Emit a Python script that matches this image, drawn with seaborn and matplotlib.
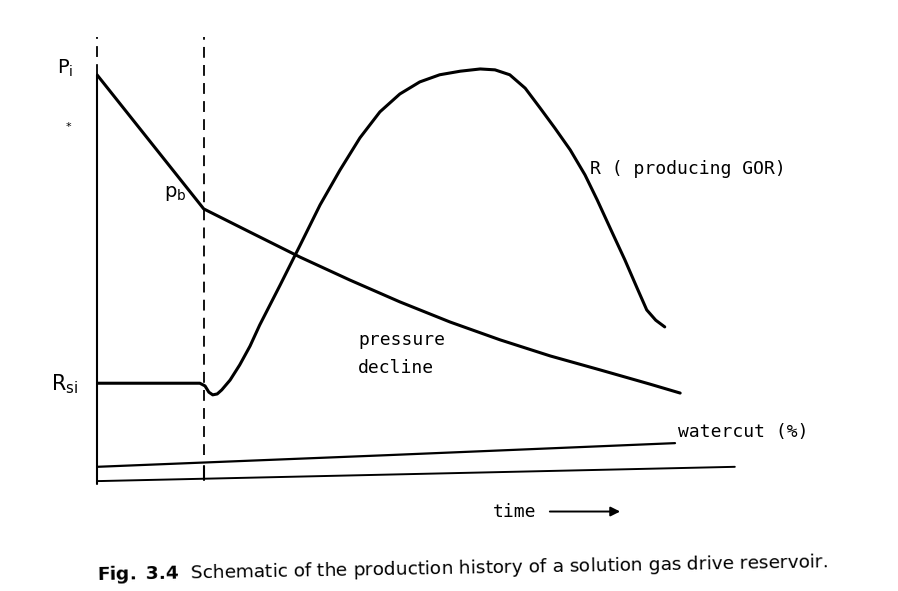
import numpy as np
import pandas as pd
import matplotlib
matplotlib.use('Agg')
import matplotlib.pyplot as plt
import seaborn as sns

# schematic values (time units 0-10, value units 0-100)
t_pressure = [0.0, 1.66, 2.38, 3.16, 3.93, 4.71, 5.49, 6.27, 7.05, 7.82, 8.60, 9.07]
pressure = [91.1, 61.1, 55.9, 50.3, 45.2, 40.3, 35.8, 31.8, 28.2, 25.1, 21.9, 19.9]

t_gor = [0.0, 1.60, 1.68, 1.74, 1.80, 1.87, 1.94, 2.07, 2.22, 2.38, 2.53, 2.85, 3.16,
         3.47, 3.78, 4.09, 4.40, 4.71, 5.02, 5.33, 5.65, 5.96, 6.19, 6.42, 6.66, 6.89,
         7.12, 7.36, 7.59, 7.78, 8.01, 8.21, 8.40, 8.55, 8.69, 8.83]
gor = [22.1, 22.1, 21.5, 20.1, 19.5, 19.7, 20.6, 22.8, 26.2, 30.4, 35.1, 44.1, 53.0,
       62.0, 69.8, 77.0, 82.8, 86.8, 89.5, 91.1, 91.9, 92.4, 92.2, 91.1, 88.1, 83.7,
       79.2, 74.3, 68.7, 63.1, 55.9, 49.7, 43.4, 38.5, 36.2, 34.7]

t_watercut = [0.0, 4.5, 8.99]
watercut = [3.4, 6.0, 8.7]

t_base = [0.0, 9.92]
base = [0.2, 3.4]

t_bubble = 1.66  # time the bubble point is reached

sns.set_style('white')
plt.rcParams['font.family'] = ['DejaVu Sans']
plt.rcParams['text.color'] = 'black'

fig = plt.figure(figsize=(8.98, 5.91), dpi=100)
ax = fig.add_axes([0.108, 0.1844, 0.716, 0.7564])
ax.set_xlim(0, 10)
ax.set_ylim(0, 100)
ax.axis('off')

lw = 2.2
sns.lineplot(x=t_pressure, y=pressure, ax=ax, color='black', lw=lw, sort=False)
sns.lineplot(x=t_gor, y=gor, ax=ax, color='black', lw=lw, sort=False)
sns.lineplot(x=t_watercut, y=watercut, ax=ax, color='black', lw=1.6, sort=False)
sns.lineplot(x=t_base, y=base, ax=ax, color='black', lw=1.4, sort=False)

# vertical axis: solid up to p_i, dashed above
ax.plot([0, 0], [-0.5, pressure[0]], color='black', lw=1.5, clip_on=False)
ax.plot([0, 0], [pressure[0], 99.5], color='black', lw=1.3, ls=(0, (6, 4)), clip_on=False)
# bubble point marker
ax.plot([t_bubble, t_bubble], [6.0, 99.5], color='black', lw=1.3, ls=(0, (6, 4)), clip_on=False)
ax.plot([t_bubble, t_bubble], [0.4, 3.6], color='black', lw=1.5)

lab = dict(fontsize=13, family='DejaVu Sans Mono')
ax.text(-0.5, 92.5, r'P$_{\mathrm{i}}$', ha='center', va='center', fontsize=14)
ax.text(-0.45, 79.5, '*', fontsize=8, ha='center', va='center')
ax.text(1.22, 64.5, r'p$_{\mathrm{b}}$', ha='center', va='center', fontsize=14)
ax.text(-0.5, 21.8, r'R$_{\mathrm{si}}$', ha='center', va='center', fontsize=15)
ax.text(7.67, 70.0, 'R ( producing GOR)', ha='left', va='center', clip_on=False, **lab)
ax.text(4.06, 31.8, 'pressure', ha='left', va='center', **lab)
ax.text(4.06, 25.5, 'decline', ha='left', va='center', **lab)
ax.text(9.04, 11.2, 'watercut (%)', ha='left', va='center', clip_on=False, **lab)

ax.text(6.16, -6.6, 'time', ha='left', va='center', clip_on=False, **lab)
ax.annotate('', xy=(8.18, -6.6), xytext=(7.0, -6.6), xycoords='data',
            arrowprops=dict(arrowstyle='-|>', color='black', lw=1.4, mutation_scale=14),
            annotation_clip=False)

fig.text(0.108, 0.008, r'$\mathbf{Fig.\ 3.4}$  Schematic of the production history of a solution gas drive reservoir.',
         fontsize=13.3, ha='left', va='bottom', rotation=1.0, rotation_mode='anchor')

fig.savefig('out.png', dpi=100, facecolor='white')
